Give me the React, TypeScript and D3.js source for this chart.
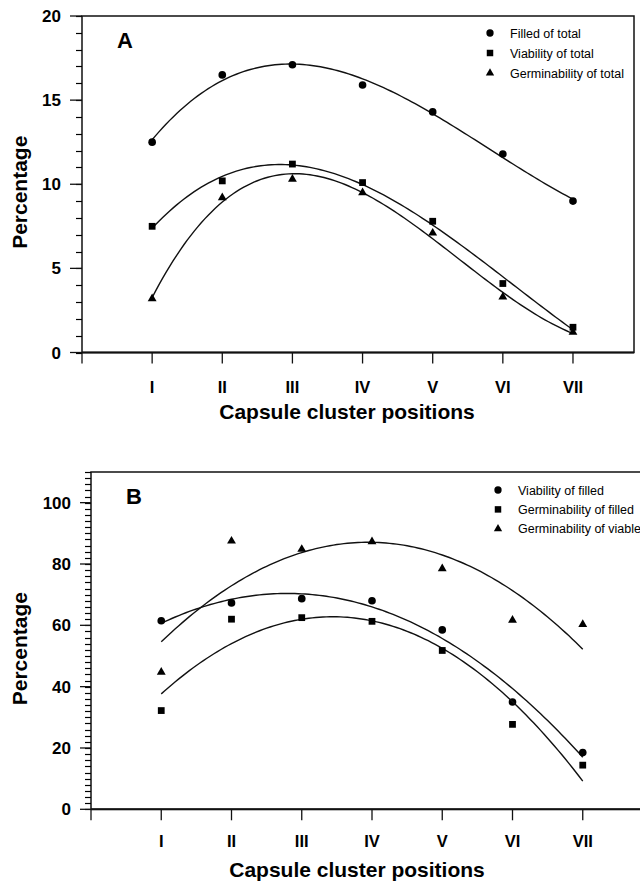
import React from "react";
import * as d3 from "d3";

const width = 640;
const height = 881;
const font = "'Liberation Sans', Arial, Helvetica, sans-serif";

const positions = ["I", "II", "III", "IV", "V", "VI", "VII"];

// panel A (percent of total)
const filledOfTotal = [12.5, 16.5, 17.1, 15.9, 14.3, 11.8, 9.0];
const viabilityOfTotal = [7.5, 10.2, 11.2, 10.1, 7.8, 4.1, 1.5];
const germOfTotal = [3.2, 9.2, 10.3, 9.5, 7.1, 3.3, 1.2];
const labelsA = ["Filled of total", "Viability of total", "Germinability of total"];
const ticksA = [0, 5, 10, 15, 20];

// panel B
const viabilityOfFilled = [61.5, 67.3, 68.7, 68.0, 58.5, 35.0, 18.5];
const germOfFilled = [32.2, 62.0, 62.5, 61.3, 51.8, 27.7, 14.4];
const germOfViable = [44.7, 87.5, 84.8, 87.3, 78.5, 61.7, 60.3];
const labelsB = ["Viability of filled", "Germinability of filled", "Germinability of viable"];
const ticksB = [0, 20, 40, 60, 80, 100];

const symbols = [d3.symbolCircle, d3.symbolSquare, d3.symbolTriangle];
const symbolSizes = [46, 46, 34];

// least squares polynomial fit, returns coefficients c0..cn
function polyfit(xs: number[], ys: number[], deg: number) {
  const n = deg + 1;
  const A: number[][] = [];
  for (let i = 0; i < n; i++) {
    A.push([]);
    for (let j = 0; j <= n; j++) A[i].push(0);
  }
  xs.forEach((x, k) => {
    for (let i = 0; i < n; i++) {
      for (let j = 0; j < n; j++) A[i][j] += Math.pow(x, i + j);
      A[i][n] += ys[k] * Math.pow(x, i);
    }
  });
  for (let i = 0; i < n; i++) {
    let p = i;
    for (let r = i + 1; r < n; r++) if (Math.abs(A[r][i]) > Math.abs(A[p][i])) p = r;
    [A[i], A[p]] = [A[p], A[i]];
    for (let r = 0; r < n; r++) {
      if (r === i) continue;
      const f = A[r][i] / A[i][i];
      for (let c = i; c <= n; c++) A[r][c] -= f * A[i][c];
    }
  }
  return A.map((row, i) => row[n] / row[i]);
}

function Panel({ letter, series, labels, deg, x, y, yTicks, minorStep, majorLen, minorLen, frameRight, legendX, legendY, legendGap, titleY, tickLabelY, titleX }: any) {
  const [x0] = x.range();
  const [yBottom, yTop] = y.range();
  const xs = positions.map((_, i) => i + 1);
  const minor = d3.range(y.domain()[0], y.domain()[1] + 0.001, minorStep);

  return (
    <g>
      {/* frame */}
      <rect x={x0} y={yTop} width={frameRight - x0} height={yBottom - yTop} fill="none" stroke="#111" strokeWidth={1.5} />
      <line x1={x0} x2={frameRight} y1={yBottom} y2={yBottom} stroke="#111" strokeWidth={2} />
      {/* y axis ticks */}
      {minor.map((t: number) => (
        <line key={"m" + t} x1={x0 - minorLen} x2={x0} y1={Math.round(y(t)) + 0.5} y2={Math.round(y(t)) + 0.5} stroke="#000" strokeWidth={1.2} />
      ))}
      {yTicks.map((t: number) => (
        <g key={t}>
          <line x1={x0 - majorLen} x2={x0} y1={y(t)} y2={y(t)} stroke="#111" strokeWidth={1.3} />
          <text x={x0 - majorLen - 9} y={y(t)} dy="0.36em" textAnchor="end" fontFamily={font} fontWeight="bold" fontSize={17}>
            {t}
          </text>
        </g>
      ))}
      {/* x axis ticks */}
      {[0, ...xs].map((v) => (
        <line key={"x" + v} x1={x(v)} x2={x(v)} y1={yBottom} y2={yBottom + 11} stroke="#111" strokeWidth={1.3} />
      ))}
      {positions.map((p, i) => (
        <text key={p} x={x(i + 1)} y={tickLabelY} dy="0.36em" textAnchor="middle" fontFamily={font} fontWeight="bold" fontSize={16.5}>
          {p}
        </text>
      ))}
      <text x={titleX} y={titleY} dy="0.36em" textAnchor="middle" fontFamily={font} fontWeight="bold" fontSize={21}>
        Capsule cluster positions
      </text>
      <text transform={`translate(19,${(yTop + yBottom) / 2 + 8}) rotate(-90)`} dy="0.36em" textAnchor="middle" fontFamily={font} fontWeight="bold" fontSize={21}>
        Percentage
      </text>
      <text x={x0 + 35} y={yTop + 32} fontFamily={font} fontWeight="bold" fontSize={22}>
        {letter}
      </text>
      {/* fitted curves and points */}
      {series.map((vals: number[], si: number) => {
        const c = polyfit(xs, vals, deg);
        const f = (t: number) => c.reduce((s, ci, k) => s + ci * Math.pow(t, k), 0);
        const pts = d3.range(1, 7.0001, 0.05);
        const path = d3
          .line<number>()
          .x((t) => x(t))
          .y((t) => y(f(t)))(pts);
        const sym = d3.symbol().type(symbols[si]).size(symbolSizes[si])();
        return (
          <g key={si}>
            <path d={path || ""} fill="none" stroke="#111" strokeWidth={1.4} />
            {vals.map((v, i) => (
              <path key={i} d={sym || ""} transform={`translate(${x(i + 1)},${y(v)})`} fill="#000" />
            ))}
          </g>
        );
      })}
      {/* legend */}
      {labels.map((l: string, i: number) => {
        const sym = d3.symbol().type(symbols[i]).size(symbolSizes[i] - 4)();
        return (
          <g key={l} transform={`translate(${legendX},${legendY + i * legendGap})`}>
            <path d={sym || ""} fill="#000" />
            <text x={20} dy="0.36em" fontFamily={font} fontSize={12.5}>
              {l}
            </text>
          </g>
        );
      })}
    </g>
  );
}

export default function App() {
  const xA = d3.scaleLinear().domain([0, 7.87]).range([82, 634]);
  const yA = d3.scaleLinear().domain([0, 20]).range([352.5, 16]);
  const xB = d3.scaleLinear().domain([0, 8]).range([91, 653]);
  const yB = d3.scaleLinear().domain([0, 110]).range([809.3, 472]);

  return (
    <svg width={width} height={height} style={{ position: "absolute", left: 0, top: 0, background: "#fff" }}>
      <Panel
        letter="A"
        series={[filledOfTotal, viabilityOfTotal, germOfTotal]}
        labels={labelsA}
        deg={3}
        x={xA}
        y={yA}
        yTicks={ticksA}
        minorStep={1}
        majorLen={12}
        minorLen={6}
        frameRight={634}
        legendX={490}
        legendY={33}
        legendGap={20}
        tickLabelY={387}
        titleY={411}
        titleX={347}
      />
      <Panel
        letter="B"
        series={[viabilityOfFilled, germOfFilled, germOfViable]}
        labels={labelsB}
        deg={2}
        x={xB}
        y={yB}
        yTicks={ticksB}
        minorStep={2}
        majorLen={11}
        minorLen={6}
        frameRight={660}
        legendX={498}
        legendY={490}
        legendGap={19.4}
        tickLabelY={841}
        titleY={869}
        titleX={357}
      />
    </svg>
  );
}
